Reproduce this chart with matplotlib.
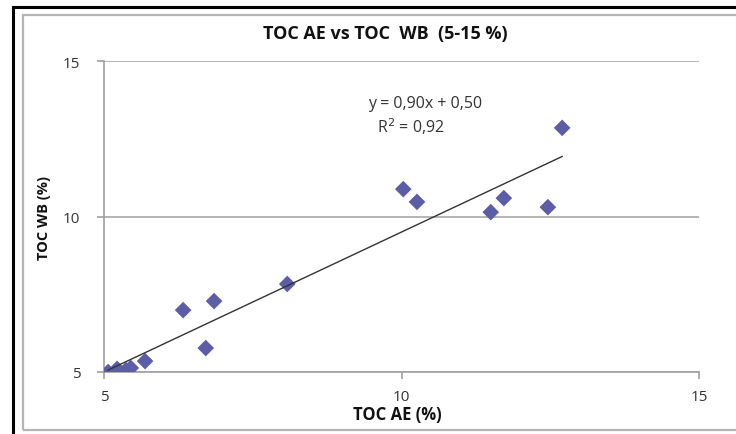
import matplotlib
matplotlib.use('Agg')
import matplotlib.pyplot as plt
from matplotlib.patches import Rectangle
from matplotlib.lines import Line2D

# TOC 数据 (%)
toc_ae = [5.07, 5.22, 5.37, 5.45, 5.69, 6.33, 6.71, 6.85, 8.08,
          10.03, 10.26, 11.50, 11.72, 12.46, 12.70]
toc_wb = [5.00, 5.10, 5.06, 5.13, 5.35, 6.99, 5.77, 7.28, 7.83,
          10.88, 10.47, 10.14, 10.59, 10.30, 12.85]

# 线性趋势线参数
slope = 0.90
intercept = 0.50
r2 = 0.92

ticks = [5, 10, 15]

plt.rcParams['font.family'] = ['Open Sans', 'DejaVu Sans']

fig = plt.figure(figsize=(7.36, 4.35), dpi=100)
W, H = 736, 435

# 外框
fig.add_artist(Line2D([13 / W, 13 / W], [0, 1 - 8 / H], transform=fig.transFigure,
                      color='black', lw=2.2))
fig.add_artist(Line2D([13 / W, 1], [1 - 8 / H, 1 - 8 / H], transform=fig.transFigure,
                      color='black', lw=2.2))
fig.add_artist(Rectangle((23 / W, 1 - 431 / H), 1, (431 - 16) / H,
                         transform=fig.transFigure, fill=False,
                         edgecolor='#b4b4b4', lw=1.6))

ax = fig.add_axes([104 / W, 1 - 373 / H, 595 / W, 311 / H])
ax.set_xlim(5, 15)
ax.set_ylim(5, 15)
ax.set_xticks(ticks)
ax.set_yticks(ticks)
ax.set_xticklabels([str(t) for t in ticks])
ax.set_yticklabels([str(t) for t in ticks])

for s in ['top', 'right']:
    ax.spines[s].set_visible(False)
for s in ['left', 'bottom']:
    ax.spines[s].set_color('#a0a0a0')
    ax.spines[s].set_linewidth(1.2)
ax.yaxis.grid(True, color='#a8a8a8', lw=1.2)
ax.set_axisbelow(True)
ax.tick_params(axis='both', colors='#a0a0a0', labelcolor='#333333',
               labelsize=11, length=5, width=1.2)
ax.tick_params(axis='x', pad=7)
ax.tick_params(axis='y', pad=12)

# 散点
ax.scatter(toc_ae, toc_wb, marker='D', s=72, color='#5b5ea6',
           edgecolors='none', zorder=3)

# 趋势线
x0, x1 = min(toc_ae), max(toc_ae)
ax.plot([x0, x1], [slope * x0 + intercept, slope * x1 + intercept],
        color='#333333', lw=1.0, zorder=4)

eq = f'y = {slope:.2f}x + {intercept:.2f}'.replace('.', ',')
r2_txt = f'R$^2$ = {r2:.2f}'.replace('.', ',')
ax.text(425 / W, 1 - 104 / H, eq, transform=fig.transFigure, ha='center',
        va='center', fontsize=11.5, color='#333333')
ax.text(411 / W, 1 - 127 / H, r2_txt, transform=fig.transFigure, ha='center',
        va='center', fontsize=11.5, color='#333333')

fig.text(385 / W, 1 - 34 / H, 'TOC AE vs TOC  WB  (5-15 %)', ha='center',
         va='center', fontsize=13, fontweight='bold', color='#111111')
fig.text(397 / W, 1 - 415 / H, 'TOC AE (%)', ha='center', va='center',
         fontsize=12, fontweight='bold', color='#111111')
fig.text(44 / W, 1 - 218 / H, 'TOC WB (%)', ha='center', va='center',
         rotation=90, fontsize=10.5, fontweight='bold', color='#111111')

fig.savefig('out.png', dpi=100)
